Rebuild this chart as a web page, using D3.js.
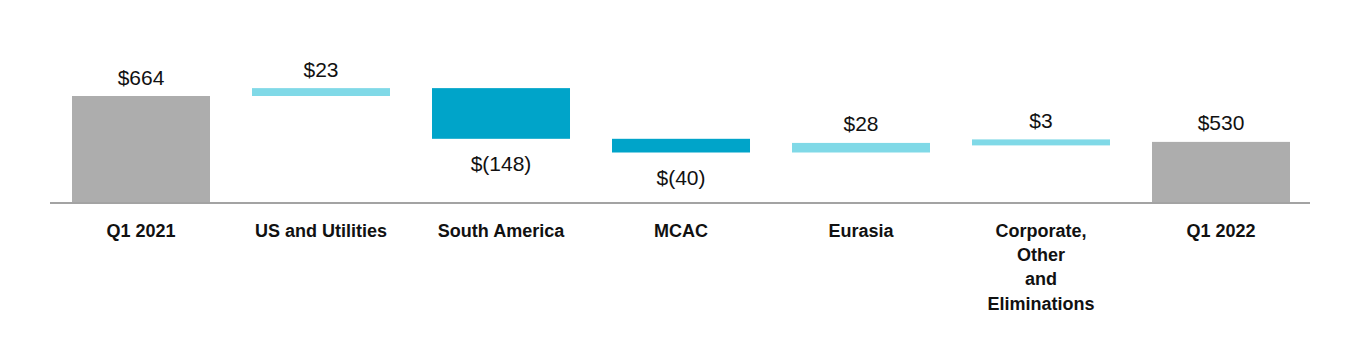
<!DOCTYPE html>
<html>
<head>
<meta charset="utf-8">
<script src="https://cdn.jsdelivr.net/npm/d3@7"></script>
<style>
  html, body { margin: 0; padding: 0; background: #fff; }
  svg { display: block; }
</style>
</head>
<body>
<svg id="chart" width="1360" height="350"></svg>
<script>
const categories = ["Q1 2021", "US and Utilities", "South America", "MCAC", "Eurasia", "Corporate,\nOther\nand\nEliminations", "Q1 2022"];
const values = [664, 23, -148, -40, 28, 3, 530];
const kinds = ["total", "delta", "delta", "delta", "delta", "delta", "total"];
const valueLabels = ["$664", "$23", "$(148)", "$(40)", "$28", "$3", "$530"];

const svg = d3.select("#chart");
const fontFamily = "'Liberation Sans', Arial, Helvetica, sans-serif";

// compute waterfall spans
let running = 0;
const bars = categories.map((c, i) => {
  let start, end;
  if (kinds[i] === "total") { start = null; end = values[i]; running = values[i]; }
  else { start = running; end = running + values[i]; running = end; }
  return { cat: c, kind: kinds[i], value: values[i], start, end, label: valueLabels[i] };
});

const x = d3.scaleBand().domain(categories).range([51, 1311]).paddingInner(0.2333).paddingOuter(0.11667);
const y = d3.scaleLinear().domain([353, 664]).range([202.5, 96]);
const baseY = y(353);

const colorOf = d => d.kind === "total" ? "#adadad" : (d.value >= 0 ? "#80d9e7" : "#00a4c9");
const minH = 6;

const geom = bars.map(d => {
  let y0, y1;
  if (d.kind === "total") { y0 = y(d.end); y1 = baseY; }
  else {
    y0 = Math.min(y(d.start), y(d.end));
    y1 = Math.max(y(d.start), y(d.end));
    if (y1 - y0 < minH) { const m = (y0 + y1) / 2; y0 = m - minH / 2; y1 = m + minH / 2; }
  }
  return Object.assign({}, d, { y0, y1 });
});

svg.append("g").selectAll("rect").data(geom).join("rect")
  .attr("x", d => x(d.cat))
  .attr("width", x.bandwidth())
  .attr("y", d => d.y0)
  .attr("height", d => d.y1 - d.y0)
  .attr("fill", colorOf);

// value labels
svg.append("g").selectAll("text").data(geom).join("text")
  .attr("x", d => x(d.cat) + x.bandwidth() / 2)
  .attr("y", d => (d.kind === "delta" && d.value < 0) ? d.y1 + 32 : d.y0 - 11.5)
  .attr("text-anchor", "middle")
  .attr("font-family", fontFamily)
  .attr("font-size", "21px")
  .attr("fill", "#111")
  .text(d => d.label);

// axis line
const axis = d3.axisBottom(x).tickSize(0).tickFormat("");
const ax = svg.append("g").attr("transform", `translate(0,${baseY + 0.5})`).call(axis);
ax.select(".domain").attr("stroke", "#a3a3a3").attr("stroke-width", 2).attr("d", "M50,0H1310");

// category labels
const lab = svg.append("g").selectAll("text").data(categories).join("text")
  .attr("x", d => x(d) + x.bandwidth() / 2)
  .attr("y", 237)
  .attr("text-anchor", "middle")
  .attr("font-family", fontFamily)
  .attr("font-size", "18px")
  .attr("font-weight", "bold")
  .attr("fill", "#111");
lab.each(function(d) {
  const lines = d.split("\n");
  const t = d3.select(this);
  lines.forEach((ln, i) => {
    t.append("tspan").attr("x", x(d) + x.bandwidth() / 2).attr("dy", i === 0 ? 0 : 24.2).text(ln);
  });
});
</script>
</body>
</html>
